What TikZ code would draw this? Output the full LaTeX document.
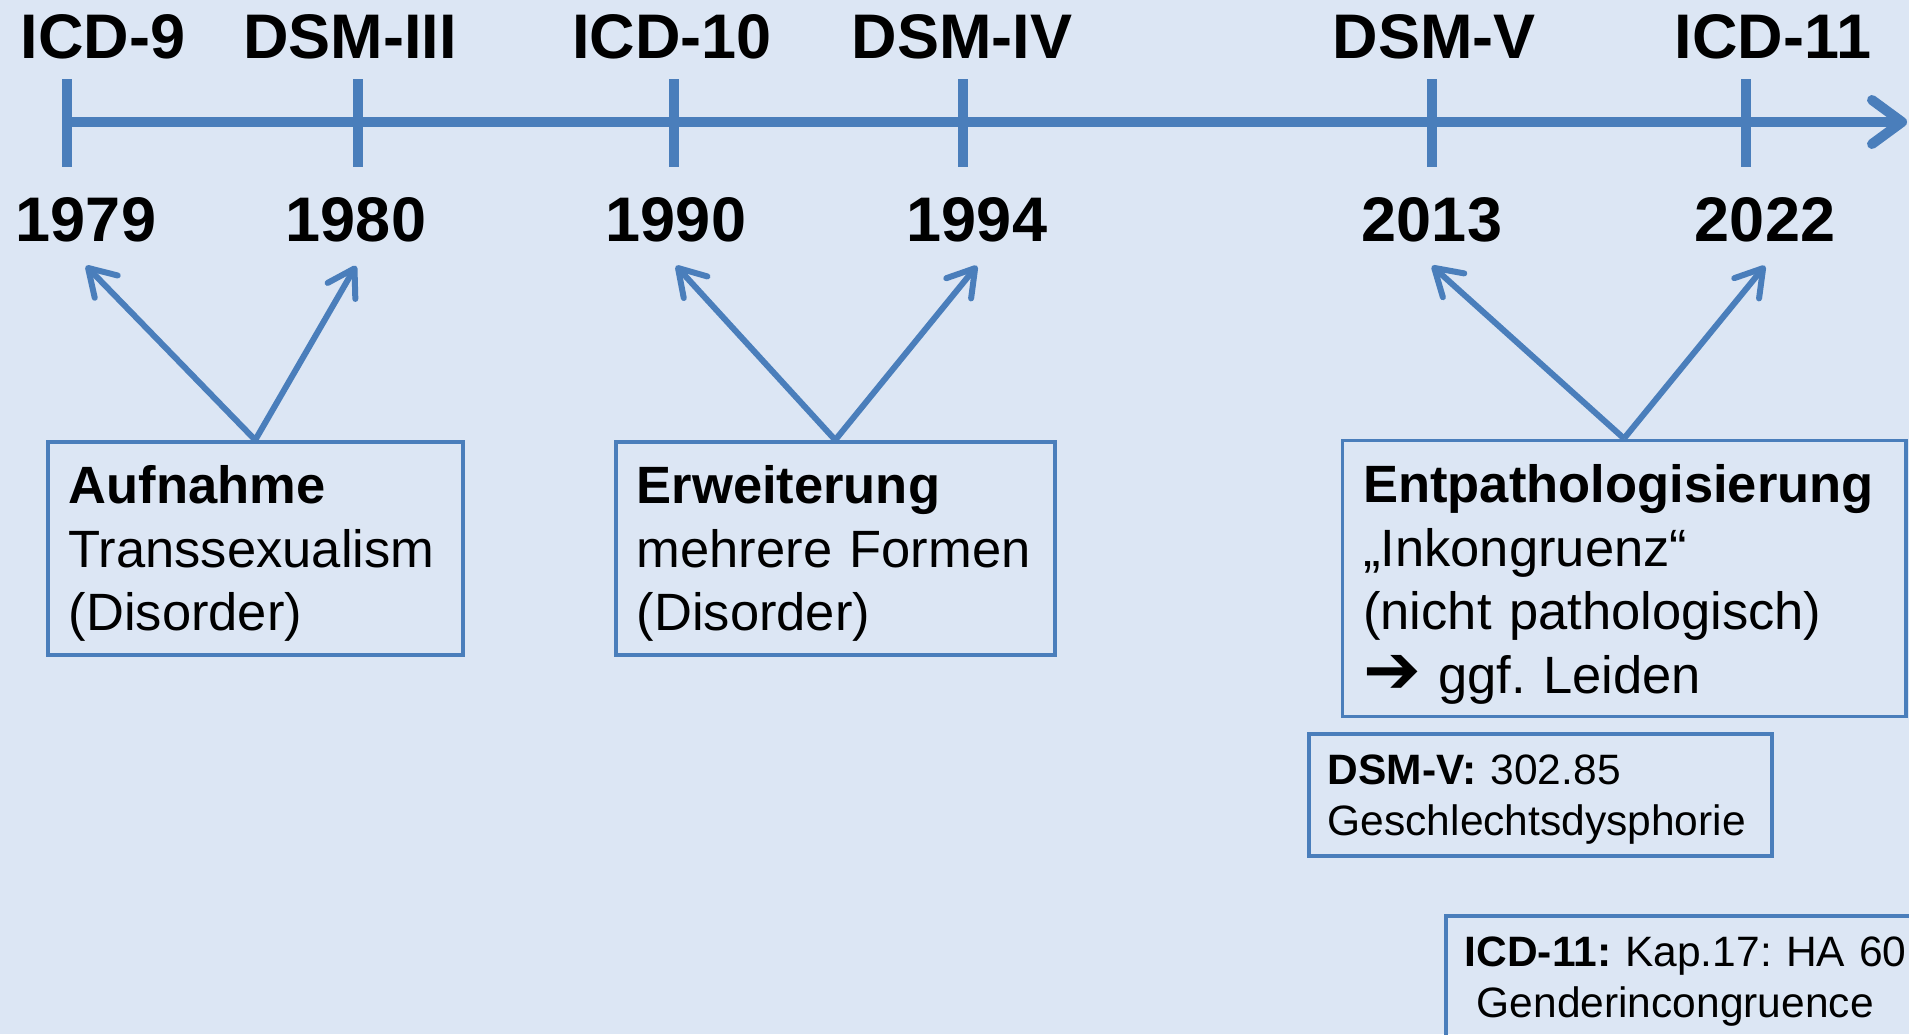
\documentclass[tikz,border=0pt]{standalone}
\usepackage{fontspec}
\setmainfont{Liberation Sans}
\newfontfamily\symfont{DejaVu Sans}
\usetikzlibrary{arrows.meta}

\definecolor{tlblue}{HTML}{4A7EBB}
\definecolor{tlback}{HTML}{DCE6F4}

\tikzset{
  hd/.style={anchor=base, inner sep=0pt, font=\bfseries\fontsize{63}{75}\selectfont},
  yr/.style={anchor=base, inner xsep=0pt, inner ysep=24pt, font=\bfseries\fontsize{63}{75}\selectfont},
  bigbox/.style={draw=tlblue, line width=3.5pt, anchor=north west, align=left,
    inner xsep=21pt, inner ysep=0pt, font=\frenchspacing\fontsize{52.5}{63.5}\selectfont},
  smallbox/.style={bigbox, inner xsep=19pt, font=\frenchspacing\fontsize{42.5}{51}\selectfont},
  pointer/.style={tlblue, line width=6pt, -{Straight Barb[length=26pt, width=32pt, round]}}
}

\begin{document}
\begin{tikzpicture}[x=1pt, y=-1pt]
\useasboundingbox (0,0) rectangle (1909,1034);
\fill[tlback] (0,0) rectangle (1909,1034);
\clip (0,0) rectangle (1909,1034);

% timeline
\coordinate (t0) at (67,122);
\coordinate (t1) at (1907,122);
\draw[tlblue, line width=10pt, -{Straight Barb[length=30pt, width=44pt, round]}] (t0) -- (t1);
\foreach \x in {67,358,674,963,1432,1746}
  \draw[tlblue, line width=10pt] (\x,79) -- (\x,167);

% classifications
\node[hd] (icd9) at (103,58) {ICD-9};
\node[hd] (dsm3) at (350,58) {DSM-III};
\node[hd] (icd10) at (672,58) {ICD-10};
\node[hd] (dsm4) at (962,58) {DSM-IV};
\node[hd] (dsm5) at (1434,58) {DSM-V};
\node[hd] (icd11) at (1773,58) {ICD-11};

% years
\node[yr] (y79) at (86,241) {1979};
\node[yr] (y80) at (356,241) {1980};
\node[yr] (y90) at (676,241) {1990};
\node[yr] (y94) at (977,241) {1994};
\node[yr] (y13) at (1432,241) {2013};
\node[yr] (y22) at (1765,241) {2022};

% boxes
\node[bigbox, text width=373pt, text height=62pt, text depth=151pt] (b1) at (46,440)
  {\textbf{Aufnahme}\\Transsexualism\\(Disorder)};
\node[bigbox, text width=397pt, text height=62pt, text depth=151pt] (b2) at (614,440)
  {\textbf{Erweiterung}\\mehrere Formen\\(Disorder)};
\node[bigbox, text width=521.5pt, text height=62.5pt, text depth=213.5pt] (b3) at (1340.5,438.5)
  {\textbf{Entpathologisierung}\\„Inkongruenz“\\(nicht pathologisch)\\{\symfont\fontsize{69}{63.5}\selectfont ➔}\hspace{17pt}ggf. Leiden};
\node[smallbox, text width=425pt, text height=51pt, text depth=71pt] (b4) at (1307,732)
  {\textbf{DSM-V:} 302.85\\Geschlechtsdysphorie};
\node[smallbox, text width=478pt, text height=51pt, text depth=150pt] (b5) at (1444,914)
  {\textbf{ICD-11:} Kap.17: HA 60\\\hspace*{12pt}Genderincongruence};

% pointers
\draw[pointer] (b1.north) -- (y79.south);
\draw[pointer] (b1.north) -- (y80.south);
\draw[pointer] (b2.north) -- (y90.south);
\draw[pointer] (b2.north) -- (y94.south);
\draw[pointer] (b3.north) -- (y13.south);
\draw[pointer] (b3.north) -- (y22.south);
\end{tikzpicture}
\end{document}
